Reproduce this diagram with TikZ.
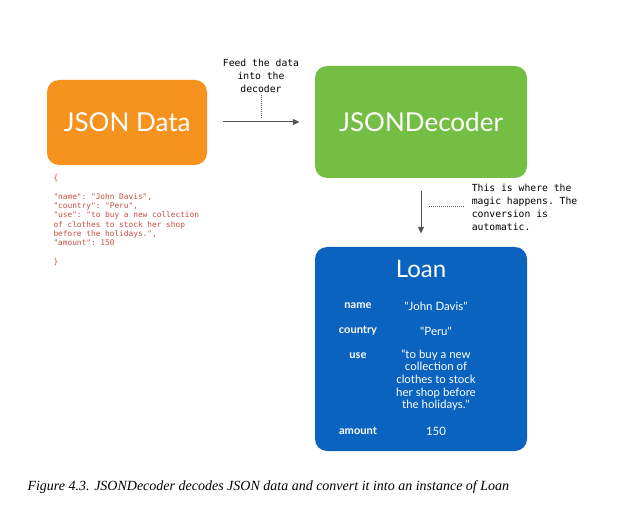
\documentclass[tikz,border=0pt]{standalone}
\usepackage{fontspec}
\setmainfont{Lato}
\setmonofont{DejaVu Sans Mono}
\newfontfamily\capfont{Liberation Serif}
\usetikzlibrary{arrows.meta}

\definecolor{jsonorange}{RGB}{246,146,30}
\definecolor{decodergreen}{RGB}{116,190,67}
\definecolor{loanblue}{RGB}{11,99,192}
\definecolor{jsonred}{RGB}{200,75,65}
\definecolor{arrowgray}{RGB}{85,85,85}

\tikzset{every picture/.style={line width=0.75pt}}
\tikzset{
  bigbox/.style={rounded corners=9pt, text=white, inner sep=0pt, font=\fontsize{19.5}{22}\selectfont},
  flowarrow/.style={draw=arrowgray, -{Triangle[length=5pt,width=4.5pt]}},
  noteline/.style={draw=arrowgray, dash pattern=on 0.6pt off 0.9pt},
  notetext/.style={font=\ttfamily\fontsize{7.3}{9.75}\selectfont, inner sep=1pt},
  fieldname/.style={font=\bfseries\fontsize{8.3}{10}\selectfont, text=white},
  fieldvalue/.style={font=\fontsize{8.6}{9.5}\selectfont, text=white, align=center}
}

\begin{document}
\begin{tikzpicture}[x=0.75pt,y=0.75pt,yscale=-1,xscale=1]
    \useasboundingbox (0,0) rectangle (621,520);

    %Shape: Rounded Rectangle [JSON Data]
    \node[bigbox, fill=jsonorange, minimum width=120pt, minimum height=63.75pt] (json) at (127,122.5) {JSON Data};
    %Shape: Rounded Rectangle [JSONDecoder]
    \node[bigbox, fill=decodergreen, minimum width=159pt, minimum height=84pt] (decoder) at (421,122) {JSONDecoder};
    %Shape: Rounded Rectangle [Loan]
    \node[bigbox, fill=loanblue, minimum width=159pt, minimum height=153pt] (loan) at (421,349) {};

    %Straight Lines [data -> decoder]
    \draw[flowarrow, shorten <=11.25pt, shorten >=11.25pt] (json.east |- 0,122) -- (decoder.west |- 0,122);
    %Straight Lines [decoder -> loan]
    \draw[flowarrow, shorten <=9.75pt, shorten >=9.75pt] (decoder.south |- 0,178) -- (loan.north);

    % Text Node
    \node[notetext, align=center] (feed) at (261,76) {Feed the data\\into the\\decoder};
    \coordinate (feedend) at (261,117);
    \draw[noteline] (feed.south) -- (feedend);

    % Text Node
    \node[notetext, align=left, anchor=west] (magic) at (470,207.5) {This is where the\\magic happens. The\\conversion is\\automatic.};
    \coordinate (magicend) at (428,207);
    \draw[noteline, shorten <=5pt] (magic.west |- magicend) -- (magicend);

    % Text Node
    \node[anchor=north west, align=left, text=jsonred, inner sep=0pt,
          font=\ttfamily\fontsize{5.85}{7}\selectfont] (jsontext) at (53,174)
      {\{\\
       \mbox{}\\
       "name": "John Davis",\\
       "country": "Peru",\\
       "use": "to buy a new collection\\
       of clothes to stock her shop\\
       before the holidays.",\\
       "amount": 150\\
       \mbox{}\\
       \}};

    % Text Node
    \node[text=white, font=\fontsize{18}{20}\selectfont] (loantitle) at (421,269) {Loan};
    \node[fieldname] (namekey) at (358,306) {name};
    \node[fieldname] (countrykey) at (358,331) {country};
    \node[fieldname] (usekey) at (358,356) {use};
    \node[fieldname] (amountkey) at (358,431) {amount};
    \node[fieldvalue] (nameval) at (436,306) {\textquotedbl John Davis\textquotedbl};
    \node[fieldvalue] (countryval) at (436,331) {\textquotedbl Peru\textquotedbl};
    \node[fieldvalue] (useval) at (436,380) {“to buy a new\\collection of\\clothes to stock\\her shop before\\the holidays.\textquotedbl};
    \node[fieldvalue] (amountval) at (436,431) {150};

    % Text Node
    \node[anchor=west, inner sep=0pt, font=\capfont\itshape\fontsize{10.5}{12}\selectfont] (caption) at (27,487)
      {Figure 4.3. JSONDecoder decodes JSON data and convert it into an instance of Loan};
\end{tikzpicture}
\end{document}
